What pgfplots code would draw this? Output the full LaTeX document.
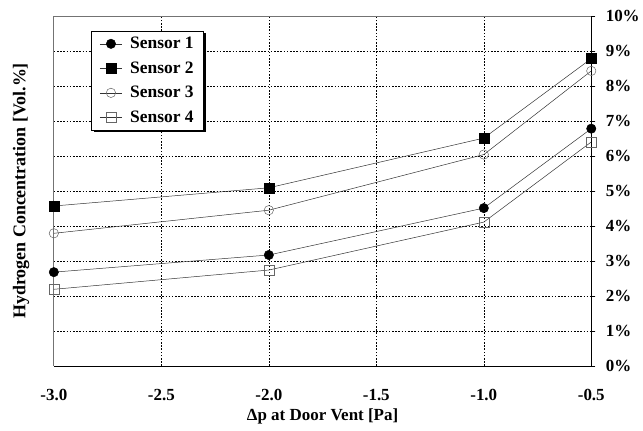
\documentclass[border=0pt]{standalone}
\usepackage{pgfplots}
\pgfplotsset{compat=1.18}
\usepackage{fontspec}
\setmainfont{Liberation Serif}
\usetikzlibrary{shadows}
\makeatletter
\tikzset{no preactions/.code={\let\tikz@preactions\pgfutil@empty}}
\makeatother
\begin{document}
\begin{tikzpicture}
\begin{axis}[
  at={(0,0)}, anchor=south west,
  scale only axis, width=539pt, height=351pt,
  xmin=-3, xmax=-0.5, ymin=0, ymax=10,
  xtick={-3,-2.5,-2,-1.5,-1,-0.5},
  xticklabels={-3.0,-2.5,-2.0,-1.5,-1.0,-0.5},
  ytick={0,1,...,10},
  yticklabels={0\%,1\%,2\%,3\%,4\%,5\%,6\%,7\%,8\%,9\%,10\%},
  extra x ticks={-2.5,-2,-1.5,-1},
  extra x tick labels={},
  extra x tick style={grid=major, xtick style={draw=none}},
  extra y ticks={1,2,3,4,5,6,7,8,9},
  extra y tick labels={},
  extra y tick style={grid=major},
  axis x line*=bottom, axis y line*=right,
  axis line style={black, line width=0.8pt, -},
  yticklabel pos=right,
  xtick style={draw=none},
  ytick style={black, line width=0.6pt},
  tick align=outside, major tick length=4pt,
  tick label style={font=\fontsize{17}{20}\selectfont\bfseries},
  xticklabel style={yshift=-16pt},
  yticklabel style={xshift=7pt},
  major grid style={black, line width=0.5pt, dash pattern=on 1.6pt off 1.6pt},
  xlabel={Δp at Door Vent [Pa]},
  xlabel style={font=\fontsize{17}{20}\selectfont\bfseries, yshift=7pt},
  legend style={at={(rel axis cs:0.07,0.957)}, anchor=north west,
    draw=black, line width=0.6pt, fill=white,
    font=\fontsize{17.5}{20}\selectfont\bfseries,
    row sep=7.5pt, inner xsep=8pt, inner ysep=4pt,
    /tikz/every odd column/.append style={column sep=6pt},
    drop shadow={shadow xshift=2pt, shadow yshift=-2pt, fill=black, opacity=1}},
  legend image code/.code={\draw[no preactions,mark repeat=2,mark phase=2,#1,no preactions] plot coordinates {(0pt,0pt) (11pt,0pt) (22pt,0pt)};},
  legend cell align=left,
  every axis plot/.append style={line width=0.5pt},
  clip=false,
]
\draw[black!55, line width=0.8pt] (rel axis cs:0,0) -- (rel axis cs:0,1) -- (rel axis cs:1,1);
\addplot[black!80, mark=*, mark size=4.7pt, mark options={fill=black, draw=black}] coordinates {(-3,2.68) (-2,3.17) (-1,4.51) (-0.5,6.78)};
\addlegendentry{Sensor 1}
\addplot[black!80, mark=square*, mark size=5pt, mark options={fill=black, draw=black}] coordinates {(-3,4.57) (-2,5.09) (-1,6.51) (-0.5,8.78)};
\addlegendentry{Sensor 2}
\addplot[black!80, mark=o, mark size=4.7pt, mark options={fill=white, draw=black!60}] coordinates {(-3,3.79) (-2,4.45) (-1,6.04) (-0.5,8.43)};
\addlegendentry{Sensor 3}
\addplot[black!80, mark=square, mark size=5pt, mark options={fill=white, draw=black!60}] coordinates {(-3,2.19) (-2,2.74) (-1,4.11) (-0.5,6.40)};
\addlegendentry{Sensor 4}
\node[rotate=90, font=\fontsize{18}{20}\selectfont\bfseries] at (rel axis cs:-0.061,0.5) {Hydrogen Concentration [Vol.\%]};
\end{axis}
\useasboundingbox (-54pt,-65pt) rectangle (589pt,367pt);
\end{tikzpicture}
\end{document}
